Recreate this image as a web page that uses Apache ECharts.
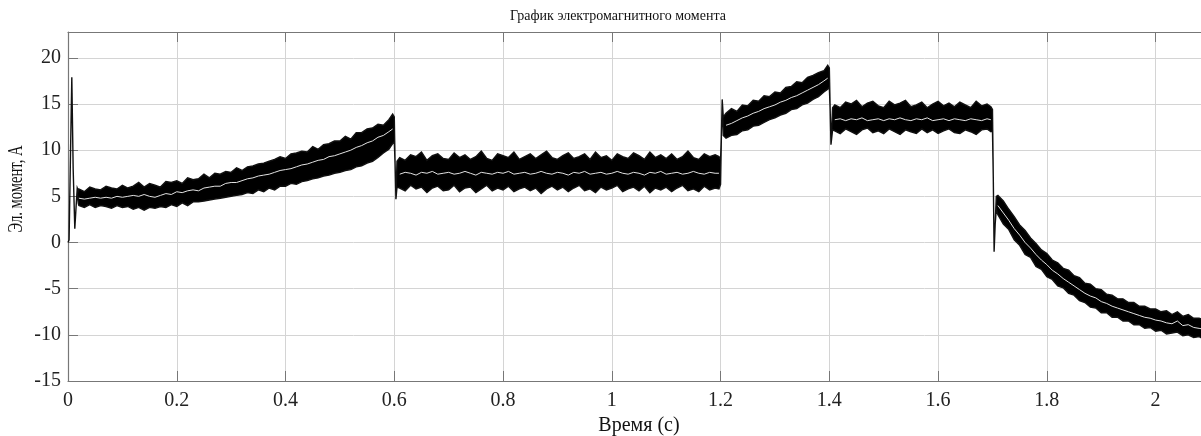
<!DOCTYPE html>
<html>
<head>
<meta charset="utf-8">
<script src="https://cdn.jsdelivr.net/npm/echarts@6/dist/echarts.min.js"></script>
<style>
  html, body { margin: 0; padding: 0; background: #fff; overflow: hidden; }
  #chart { width: 1215px; height: 436px; }
</style>
</head>
<body>
<div id="chart"></div>
<script>
// time samples (s); denser points around the switching transients
const time = [
  0, 0.002, 0.005, 0.007, 0.0095, 0.0125, 0.015, 0.017, 0.019,
  0.02, 0.03, 0.04, 0.05, 0.06, 0.07, 0.08, 0.09, 0.10, 0.11, 0.12, 0.13, 0.14, 0.15, 0.16, 0.17, 0.18, 0.19, 0.20,
  0.21, 0.22, 0.23, 0.24, 0.25, 0.26, 0.27, 0.28, 0.29, 0.30, 0.31, 0.32, 0.33, 0.34, 0.35, 0.36, 0.37, 0.38, 0.39, 0.40,
  0.41, 0.42, 0.43, 0.44, 0.45, 0.46, 0.47, 0.48, 0.49, 0.50, 0.51, 0.52, 0.53, 0.54, 0.55, 0.56, 0.57, 0.58, 0.59, 0.597,
  0.6, 0.6015, 0.603, 0.605,
  0.61, 0.62, 0.63, 0.64, 0.65, 0.66, 0.67, 0.68, 0.69, 0.70, 0.71, 0.72, 0.73, 0.74, 0.75, 0.76, 0.77, 0.78, 0.79, 0.80,
  0.81, 0.82, 0.83, 0.84, 0.85, 0.86, 0.87, 0.88, 0.89, 0.90, 0.91, 0.92, 0.93, 0.94, 0.95, 0.96, 0.97, 0.98, 0.99, 1.00,
  1.01, 1.02, 1.03, 1.04, 1.05, 1.06, 1.07, 1.08, 1.09, 1.10, 1.11, 1.12, 1.13, 1.14, 1.15, 1.16, 1.17, 1.18, 1.19, 1.197,
  1.2, 1.2015, 1.203, 1.205,
  1.21, 1.22, 1.23, 1.24, 1.25, 1.26, 1.27, 1.28, 1.29, 1.30, 1.31, 1.32, 1.33, 1.34, 1.35, 1.36, 1.37, 1.38, 1.39, 1.397,
  1.4, 1.4015, 1.403, 1.406,
  1.41, 1.42, 1.43, 1.44, 1.45, 1.46, 1.47, 1.48, 1.49, 1.50, 1.51, 1.52, 1.53, 1.54, 1.55, 1.56, 1.57, 1.58, 1.59, 1.60,
  1.61, 1.62, 1.63, 1.64, 1.65, 1.66, 1.67, 1.68, 1.69, 1.697,
  1.7, 1.7015, 1.703, 1.705, 1.707,
  1.71, 1.72, 1.73, 1.74, 1.75, 1.76, 1.77, 1.78, 1.79, 1.80, 1.81, 1.82, 1.83, 1.84, 1.85, 1.86, 1.87, 1.88, 1.89, 1.90,
  1.91, 1.92, 1.93, 1.94, 1.95, 1.96, 1.97, 1.98, 1.99, 2.00, 2.01, 2.02, 2.03, 2.04, 2.05, 2.06, 2.07, 2.08, 2.09, 2.10
];

// upper edge of the noisy torque band
const upper = [
  0, 0.3, 11, 17.9, 8, 1.5, 4, 5.9, 5.6,
  5.8, 5.5, 6.0, 5.8, 5.7, 6.1, 5.9, 5.8, 6.2, 5.9, 6.1, 6.5, 6.0, 6.4, 6.2, 6.0, 6.6, 6.5, 6.7,
  6.4, 7.0, 6.8, 6.9, 7.4, 7.0, 7.5, 7.4, 7.7, 7.6, 8.1, 7.8, 8.2, 8.3, 8.5, 8.6, 8.8, 9.0, 9.3, 9.1,
  9.6, 9.7, 9.9, 9.8, 10.4, 10.1, 10.6, 10.7, 11.0, 11.0, 11.5, 11.2, 11.9, 11.9, 12.3, 12.4, 12.8, 12.7, 13.3, 13.9,
  13.6, 8.5, 4.7, 8.8,
  9.2, 8.9, 9.5, 9.3, 9.8, 8.9, 9.4, 9.6, 9.1, 9.0, 9.7, 9.2, 9.5, 9.0, 9.3, 9.9, 9.1, 8.9, 9.6, 9.4,
  9.2, 9.8, 9.0, 9.3, 9.6, 9.1, 9.5, 9.9, 9.2, 9.0, 9.4, 9.7, 9.1, 9.3, 9.6, 9.0, 9.8, 9.2, 9.4, 8.9,
  9.6, 9.3, 9.1, 9.7, 9.4, 9.0, 9.8, 9.2, 9.5, 9.1, 9.6, 9.0, 9.3, 9.9, 9.2, 9.0, 9.6, 9.3, 9.5, 9.3,
  9.0, 11.5, 15.5, 13.6,
  14.0, 14.5, 14.2, 14.9, 14.8, 15.4, 15.3, 15.9, 15.8, 16.3, 16.2, 16.8, 16.9, 17.4, 17.3, 17.9, 18.1, 18.4, 18.6, 19.2,
  18.9, 14.5, 10.6, 14.6,
  14.9, 14.6, 15.2, 15.0, 15.4, 14.7, 15.1, 15.3, 14.8, 14.6, 15.3, 14.9, 15.1, 15.4, 14.7, 14.9, 15.2, 14.6, 15.0, 15.3,
  14.8, 15.1, 14.7, 15.2, 14.9, 14.6, 15.3, 14.8, 15.0, 14.7,
  14.4, 7.0, -1.0, 2.0, 5.0,
  5.1, 4.5, 3.6, 2.8, 1.9, 1.3, 0.5, -0.1, -0.8, -1.2, -1.9, -2.2, -2.8, -3.0, -3.6, -3.8, -4.4, -4.5, -5.0, -5.1,
  -5.6, -5.7, -6.1, -6.1, -6.5, -6.5, -6.9, -6.9, -7.2, -7.2, -7.5, -7.4, -7.8, -7.5, -8.0, -7.8, -8.2, -8.2, -8.4, -8.4
];

// lower edge of the noisy torque band
const lower = [
  0, 0.3, 11, 17.6, 8, 1.5, 4, 5.6, 4.2,
  4.0, 3.8, 4.1, 3.8, 4.0, 3.9, 3.7, 4.0, 3.8, 3.9, 3.6, 3.8, 3.5, 3.8, 3.7, 3.9, 3.8, 4.1, 3.9,
  4.3, 4.0, 4.4, 4.4, 4.5, 4.6, 4.7, 4.8, 4.9, 5.0, 5.1, 5.2, 5.4, 5.3, 5.7, 5.5, 5.9, 5.7, 6.1, 6.1,
  6.4, 6.3, 6.6, 6.7, 6.9, 7.0, 7.2, 7.3, 7.5, 7.6, 7.8, 7.9, 8.2, 8.3, 8.6, 8.8, 9.2, 9.7, 10.1, 10.7,
  10.9, 8.5, 4.7, 6.0,
  5.9, 5.6, 6.2, 5.8, 6.0, 5.4, 5.9, 6.1, 5.6, 5.7, 6.2, 5.5, 5.9, 6.0, 5.4, 5.8, 6.2, 5.6, 5.9, 5.7,
  6.1, 5.5, 5.8, 6.0, 5.6, 5.9, 5.3, 5.8, 6.1, 5.7, 6.0, 5.5, 5.9, 6.2, 5.6, 5.8, 5.4, 6.0, 5.7, 5.9,
  6.2, 5.5, 5.8, 6.0, 5.6, 6.1, 5.4, 5.9, 5.7, 6.0, 5.5, 5.9, 6.2, 5.6, 5.8, 5.5, 6.1, 5.7, 5.9, 5.8,
  6.3, 11.5, 15.5, 11.6,
  11.3, 11.6, 11.7, 12.1, 12.2, 12.6, 12.7, 13.0, 13.3, 13.5, 13.8, 14.0, 14.4, 14.5, 14.9, 15.1, 15.5, 15.8, 16.3, 16.6,
  16.8, 14.5, 10.6, 12.2,
  12.1, 11.8, 12.3, 12.0, 11.7, 12.2, 12.4, 11.9, 12.1, 11.8, 12.3, 12.0, 11.7, 12.2, 12.0, 11.8, 12.3, 11.9, 12.2, 11.8,
  12.1, 12.3, 11.9, 11.8, 12.2, 12.0, 11.7, 12.2, 12.3, 12.0,
  12.1, 7.0, -1.0, 2.0, 3.6,
  3.0, 2.0, 1.4, 0.3, -0.3, -1.3, -1.6, -2.6, -2.9, -3.7, -4.0, -4.7, -4.9, -5.5, -5.7, -6.3, -6.5, -7.0, -7.1, -7.6,
  -7.6, -8.1, -8.1, -8.5, -8.5, -8.9, -8.9, -9.3, -9.2, -9.6, -9.5, -9.9, -9.8, -9.7, -10.1, -10.0, -10.3, -10.2, -10.5, -10.4
];

// filtered (averaged) torque, the light trace inside the band
const filtered = [
  null, null, null, null, null, null, null, null, null,
  4.8, 4.7, 4.8, 4.9, 4.8, 4.9, 4.8, 5.0, 4.9, 5.0, 5.1, 5.0, 5.2, 5.0, 4.9, 5.1, 5.3, 5.2, 5.5,
  5.4, 5.6, 5.7, 5.6, 5.9, 6.0, 6.1, 6.1, 6.4, 6.5, 6.5, 6.7, 6.9, 7.0, 7.2, 7.3, 7.4, 7.6, 7.8, 7.9,
  8.0, 8.2, 8.4, 8.5, 8.7, 8.9, 9.0, 9.3, 9.4, 9.6, 9.8, 10.0, 10.3, 10.5, 10.8, 11.0, 11.4, 11.6, 12.0, 12.3,
  null, null, null, null,
  7.4, 7.6, 7.5, 7.3, 7.6, 7.5, 7.7, 7.4, 7.5, 7.6, 7.4, 7.5, 7.7, 7.5, 7.3, 7.6, 7.5, 7.4, 7.6, 7.5,
  7.7, 7.4, 7.5, 7.6, 7.4, 7.5, 7.7, 7.5, 7.4, 7.6, 7.5, 7.3, 7.6, 7.5, 7.7, 7.4, 7.5, 7.6, 7.4, 7.5,
  7.7, 7.5, 7.4, 7.6, 7.5, 7.3, 7.6, 7.5, 7.7, 7.4, 7.5, 7.6, 7.4, 7.5, 7.7, 7.5, 7.4, 7.6, 7.5, 7.5,
  null, null, null, null,
  12.7, 12.9, 13.2, 13.5, 13.7, 14.0, 14.2, 14.5, 14.7, 14.9, 15.2, 15.4, 15.7, 15.9, 16.2, 16.5, 16.8, 17.1, 17.5, 17.8,
  null, null, null, null,
  13.3, 13.4, 13.2, 13.4, 13.3, 13.5, 13.2, 13.3, 13.4, 13.2, 13.4, 13.3, 13.5, 13.3, 13.2, 13.4, 13.3, 13.5, 13.2, 13.3,
  13.4, 13.2, 13.4, 13.3, 13.2, 13.4, 13.3, 13.2, 13.4, 13.3,
  null, null, null, null, null,
  4.0, 3.2, 2.4, 1.5, 0.8, 0.0, -0.6, -1.3, -1.9, -2.4, -3.0, -3.4, -3.9, -4.3, -4.7, -5.1, -5.5, -5.8, -6.0, -6.4,
  -6.6, -6.9, -7.1, -7.3, -7.5, -7.7, -7.9, -8.1, -8.2, -8.4, -8.5, -8.7, -8.8, -8.5, -9.0, -8.9, -9.2, -9.3, -9.4, -9.4
];

const xTicks = { min: 0, max: 2.1, interval: 0.2 };
const yTicks = { min: -15, max: 22.8, interval: 5 };

const FONT = "'Liberation Serif', 'Times New Roman', serif";
const AXIS = "#777";
const GRID = "#d4d4d4";

const chart = echarts.init(document.getElementById("chart"), null, { renderer: "canvas" });

const n = Math.min(time.length, upper.length, lower.length);

chart.setOption({
  animation: false,
  grid: { left: 68, top: 32, width: 1142, height: 349, containLabel: false, outerBoundsMode: "none" },
  graphic: [
    {
      type: "text", x: 618, y: 16,
      style: { text: "График электромагнитного момента", font: "14px " + FONT, fill: "#111", align: "center", verticalAlign: "middle" }
    },
    {
      // the source figure is squeezed vertically, so the rotated label is shorter than its glyph size suggests
      type: "text", x: 17, y: 189, rotation: Math.PI / 2, scaleX: 0.73,
      style: { text: "Эл. момент, А", font: "20px " + FONT, fill: "#111", align: "center", verticalAlign: "middle" }
    }
  ],
  xAxis: [
    {
      type: "value", position: "bottom", min: xTicks.min, max: xTicks.max, interval: xTicks.interval,
      name: "Время (с)", nameLocation: "middle", nameGap: 27,
      nameTextStyle: { fontFamily: FONT, fontSize: 20, color: "#111" },
      axisLine: { onZero: false, lineStyle: { color: AXIS, width: 1.2 } },
      axisTick: { inside: true, length: 10, lineStyle: { color: AXIS } },
      axisLabel: { fontFamily: FONT, fontSize: 20, color: "#222", margin: 10, showMaxLabel: false },
      splitLine: { show: true, lineStyle: { color: GRID, width: 1 } }
    },
    {
      type: "value", position: "top", min: xTicks.min, max: xTicks.max, interval: xTicks.interval,
      axisLine: { show: true, onZero: false, lineStyle: { color: AXIS, width: 1.2 } },
      axisTick: { inside: true, length: 10, lineStyle: { color: AXIS } },
      axisLabel: { show: false },
      splitLine: { show: false }
    }
  ],
  yAxis: {
    type: "value", min: yTicks.min, max: yTicks.max, interval: yTicks.interval,
    axisLine: { show: true, onZero: false, lineStyle: { color: AXIS, width: 1.2 } },
    axisTick: { show: true, inside: true, length: 10, lineStyle: { color: AXIS } },
    axisLabel: { fontFamily: FONT, fontSize: 20, color: "#222", margin: 7, showMaxLabel: false },
    splitLine: { show: true, lineStyle: { color: GRID, width: 1 } }
  },
  series: [
    {
      // noisy instantaneous torque drawn as a filled band between its envelopes
      type: "custom",
      data: [[0, 0]],
      silent: true,
      renderItem: function (params, api) {
        const top = [], bottom = [];
        for (let i = 0; i < n; i++) {
          top.push(api.coord([time[i], upper[i]]));
          bottom.push(api.coord([time[i], lower[i]]));
        }
        return {
          type: "polygon",
          shape: { points: top.concat(bottom.reverse()) },
          style: { fill: "#000", stroke: "#111", lineWidth: 1.4 }
        };
      }
    },
    {
      type: "line",
      data: time.map((t, i) => [t, filtered[i]]),
      showSymbol: false,
      connectNulls: false,
      lineStyle: { color: "#e2e2e2", width: 1 },
      silent: true,
      z: 3
    }
  ]
});
</script>
</body>
</html>
